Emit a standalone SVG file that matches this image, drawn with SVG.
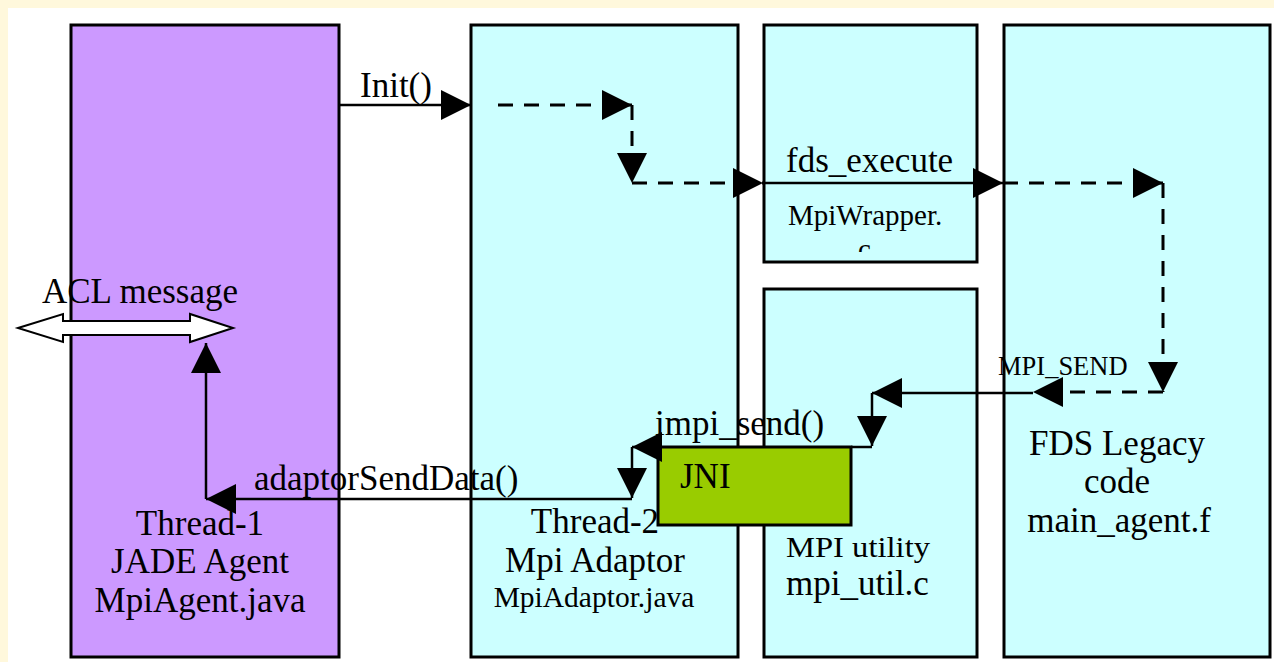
<svg xmlns="http://www.w3.org/2000/svg" width="1274" height="662" viewBox="0 0 1274 662">
<style>
.box{stroke:#000;stroke-width:3}
.purple{fill:#CC99FF}
.cyan{fill:#CCFFFF}
.green{fill:#99CC00}
.t{font-family:"Liberation Serif","Times New Roman",serif;fill:#000}
.big{font-size:35px}
.small{font-size:29px}
.mid{text-anchor:middle}
.ln{fill:none;stroke:#000;stroke-width:2.5}
.dash{fill:none;stroke:#000;stroke-width:3;stroke-dasharray:15 11}
</style>
<defs>
<marker id="ah" markerUnits="userSpaceOnUse" markerWidth="31" markerHeight="31" refX="30" refY="15" orient="auto" viewBox="0 0 31 31">
<path d="M0,0 L30,15 L0,30 Z" fill="#000"/>
</marker>
<clipPath id="clipc"><rect x="764" y="200" width="213" height="52"/></clipPath>
</defs>
<rect x="0" y="0" width="1274" height="662" fill="#FFF8DC"/>
<rect x="8" y="8" width="1266" height="654" fill="#FFFFFF"/>

<g id="node-jade-agent">
<rect class="box purple" x="71" y="25" width="268" height="632"/>
<text class="t big mid" x="200" y="535">Thread-1</text>
<text class="t big mid" x="200" y="573">JADE Agent</text>
<text class="t big mid" x="200" y="612">MpiAgent.java</text>
</g>

<g id="node-mpi-adaptor">
<rect class="box cyan" x="471" y="25" width="267" height="632"/>
<text class="t big mid" x="595" y="533">Thread-2</text>
<text class="t big mid" x="595" y="572">Mpi Adaptor</text>
<text class="t mid" style="font-size:29.5px" x="594" y="607">MpiAdaptor.java</text>
</g>

<g id="node-mpi-wrapper">
<rect class="box cyan" x="764" y="25" width="213" height="237"/>
<text class="t small" x="788" y="225">MpiWrapper.</text>
<text class="t small" x="858" y="259" clip-path="url(#clipc)">c</text>
</g>

<g id="node-mpi-utility">
<rect class="box cyan" x="764" y="289" width="213" height="368"/>
<text class="t small" x="786" y="557" textLength="144" lengthAdjust="spacingAndGlyphs">MPI utility</text>
<text class="t big" x="786" y="595">mpi_util.c</text>
</g>

<g id="node-fds-legacy">
<rect class="box cyan" x="1004" y="25" width="266" height="632"/>
<text class="t big mid" x="1117" y="455">FDS Legacy</text>
<text class="t big mid" x="1117" y="493">code</text>
<text class="t big mid" x="1119" y="532">main_agent.f</text>
</g>

<g id="node-jni">
<rect class="box green" x="658" y="447" width="193" height="78"/>
<text class="t big" x="680" y="488">JNI</text>
</g>

<g id="connectors">
<!-- ACL message double arrow -->
<path d="M18,328 L63,314 L63,321 L190,321 L190,314 L233,328 L190,342 L190,335 L63,335 L63,342 Z" fill="#FFFFFF" stroke="#000" stroke-width="2"/>
<text class="t big" x="42" y="303">ACL message</text>

<!-- Init() -->
<path class="ln" d="M339,105 L471,105" marker-end="url(#ah)"/>
<text class="t big" x="360" y="97">Init()</text>

<!-- dashed flow in adaptor -->
<path class="dash" d="M498,105 L632,105" marker-end="url(#ah)"/>
<path class="dash" d="M632,105 L632,183" marker-end="url(#ah)"/>
<path class="dash" d="M632,183 L763,183" marker-end="url(#ah)"/>

<!-- fds_execute -->
<path class="ln" d="M763,183 L1003,183" marker-end="url(#ah)"/>
<text class="t big" x="786" y="172">fds_execute</text>

<!-- dashed flow in FDS -->
<path class="dash" d="M1003,183 L1163,183" marker-end="url(#ah)"/>
<path class="dash" d="M1163,183 L1163,392" marker-end="url(#ah)"/>
<path class="dash" d="M1163,392 L1033,392" marker-end="url(#ah)"/>

<!-- MPI_SEND -->
<path class="ln" d="M1033,393 L872,393" marker-end="url(#ah)"/>
<text class="t" style="font-size:26.5px" x="998" y="375">MPI_SEND</text>
<path class="ln" d="M872,393 L872,446" marker-end="url(#ah)"/>
<path class="ln" d="M872,447 L851,447"/>

<!-- impi_send() -->
<path class="ln" d="M662,447 L632,447" marker-end="url(#ah)"/>
<path class="ln" d="M632,447 L632,498" marker-end="url(#ah)"/>
<text class="t big" x="655" y="435">impi_send()</text>

<!-- adaptorSendData() -->
<path class="ln" d="M632,499 L206,499" marker-end="url(#ah)"/>
<path class="ln" d="M206,499 L206,343" marker-end="url(#ah)"/>
<text class="t big" x="254" y="490">adaptorSendData()</text>
</g>
</svg>
